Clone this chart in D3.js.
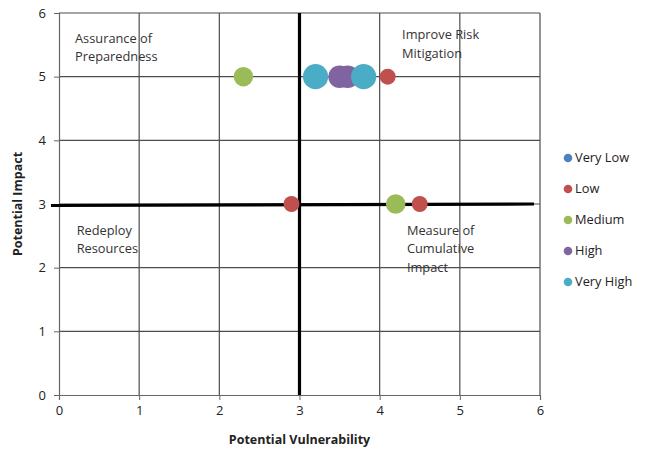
<!DOCTYPE html>
<html>
<head>
<meta charset="utf-8">
<script src="https://cdn.jsdelivr.net/npm/d3@7/dist/d3.min.js"></script>
<style>
  html, body { margin: 0; padding: 0; background: #fff; }
  svg { display: block; font-family: "Open Sans", "Noto Sans", sans-serif; }
</style>
</head>
<body>
<svg id="chart" width="649" height="456"></svg>
<script>
// Risk levels (series), their colours and relative bubble size
const seriesNames = ["Very Low", "Low", "Medium", "High", "Very High"];
const seriesColors = ["#4F81BD", "#C0504D", "#9BBB59", "#8064A2", "#4BACC6"];
const seriesSizes = [1, 2, 3, 4, 5];

// Points per series: vulnerability (x) and impact (y)
const veryLowX = [];
const veryLowY = [];
const lowX = [4.1, 2.9, 4.5];
const lowY = [5, 3, 3];
const mediumX = [2.3, 4.2];
const mediumY = [5, 3];
const highX = [3.5, 3.6];
const highY = [5, 5];
const veryHighX = [3.2, 3.8];
const veryHighY = [5, 5];

const xTicks = [0, 1, 2, 3, 4, 5, 6];
const yTicks = [0, 1, 2, 3, 4, 5, 6];
const midX = 3, midY = 3;

const quadrantLabels = [
  { x: 0.2, y: 5.53, lines: ["Assurance of", "Preparedness"] },
  { x: 4.28, y: 5.59, lines: ["Improve Risk", "Mitigation"] },
  { x: 0.22, y: 2.52, lines: ["Redeploy", "Resources"] },
  { x: 4.34, y: 2.52, lines: ["Measure of", "Cumulative", "Impact"] }
];

const xs = [veryLowX, lowX, mediumX, highX, veryHighX];
const ys = [veryLowY, lowY, mediumY, highY, veryHighY];

const svg = d3.select("#chart");
const margin = { left: 59, right: 109, top: 13, bottom: 61 };
const W = 649, H = 456;

const x = d3.scaleLinear().domain([0, 6]).range([margin.left, W - margin.right]);
const y = d3.scaleLinear().domain([0, 6]).range([H - margin.bottom, margin.top]);
const r = d3.scaleSqrt().domain([0, 5]).range([0, 12.6]);

// Gridlines
const grid = svg.append("g");
grid.selectAll("line.v").data(xTicks.slice(1)).join("line")
  .attr("x1", d => x(d)).attr("x2", d => x(d))
  .attr("y1", y(0)).attr("y2", y(6))
  .attr("stroke", "#4d4d4d").attr("stroke-width", 1.2);
grid.selectAll("line.h").data(yTicks.slice(1)).join("line")
  .attr("x1", x(0)).attr("x2", x(6))
  .attr("y1", d => y(d)).attr("y2", d => y(d))
  .attr("stroke", "#4d4d4d").attr("stroke-width", 1.2);

// Axes
const xAxis = svg.append("g").attr("transform", `translate(0,${y(0)})`)
  .call(d3.axisBottom(x).tickValues(xTicks).tickSize(5).tickPadding(6).tickFormat(d3.format("d")));
const yAxis = svg.append("g").attr("transform", `translate(${x(0)},0)`)
  .call(d3.axisLeft(y).tickValues(yTicks).tickSize(5).tickPadding(8).tickFormat(d3.format("d")));
[xAxis, yAxis].forEach(a => {
  a.select(".domain").attr("stroke", "#666").attr("stroke-width", 1.2);
  a.selectAll(".tick line").attr("stroke", "#666");
  a.selectAll(".tick text").attr("font-size", 13).attr("fill", "#222")
    .attr("font-family", "'Open Sans', sans-serif");
});

// Quadrant dividers
svg.append("line")
  .attr("x1", x(0) - 8).attr("x2", x(6) - 6)
  .attr("y1", y(midY) + 1.5).attr("y2", y(midY))
  .attr("stroke", "#000").attr("stroke-width", 3.2);
svg.append("line")
  .attr("x1", x(midX)).attr("x2", x(midX))
  .attr("y1", y(6)).attr("y2", y(0))
  .attr("stroke", "#000").attr("stroke-width", 3.2);

// Quadrant labels
quadrantLabels.forEach(q => {
  const t = svg.append("text")
    .attr("x", x(q.x)).attr("y", y(q.y))
    .attr("font-size", 12.8).attr("fill", "#333");
  q.lines.forEach((ln, i) => {
    t.append("tspan").attr("x", x(q.x)).attr("dy", i === 0 ? 0 : 18.5).text(ln);
  });
});

// Bubbles
seriesNames.forEach((name, si) => {
  const pts = xs[si].map((xv, i) => ({ x: xv, y: ys[si][i] }));
  svg.append("g").selectAll("circle").data(pts).join("circle")
    .attr("cx", d => x(d.x)).attr("cy", d => y(d.y))
    .attr("r", r(seriesSizes[si]))
    .attr("fill", seriesColors[si]);
});

// Legend
const legend = svg.append("g").attr("transform", "translate(568,158)");
seriesNames.forEach((name, i) => {
  const g = legend.append("g").attr("transform", `translate(0,${i * 31})`);
  g.append("circle").attr("r", 4.3).attr("fill", seriesColors[i]);
  g.append("text").attr("x", 7).attr("dy", "0.35em")
    .attr("font-size", 12.8).attr("fill", "#222").text(name);
});

// Axis titles
svg.append("text")
  .attr("x", x(3)).attr("y", 444)
  .attr("text-anchor", "middle").attr("font-weight", "bold")
  .attr("font-size", 12.5).attr("fill", "#222")
  .text("Potential Vulnerability");
svg.append("text")
  .attr("transform", `translate(22,${y(3)}) rotate(-90)`)
  .attr("text-anchor", "middle").attr("font-weight", "bold")
  .attr("font-size", 12.5).attr("fill", "#222")
  .text("Potential Impact");
</script>
</body>
</html>
